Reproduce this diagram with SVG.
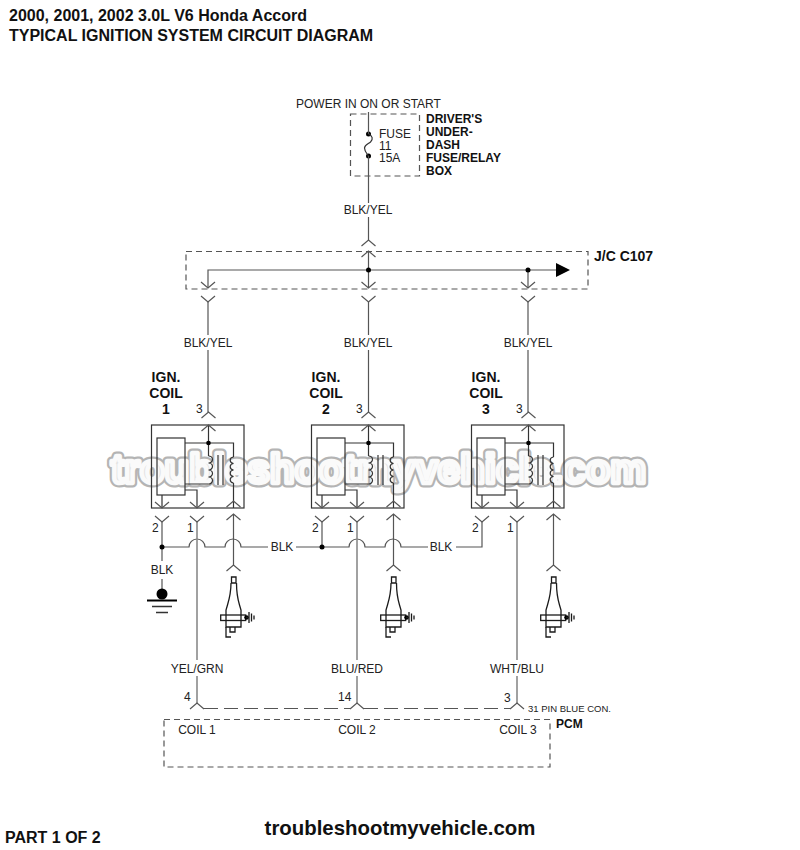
<svg xmlns="http://www.w3.org/2000/svg" xmlns:xlink="http://www.w3.org/1999/xlink" width="800" height="850" viewBox="0 0 800 850">
<style>
text{font-family:"Liberation Sans",Arial,sans-serif;font-size:12px;fill:#222}
.b{font-weight:bold;fill:#111}
.t{font-weight:bold;font-size:16px;fill:#111}
.ig{font-size:14px}
.m{text-anchor:middle}
.w{fill:none;stroke:#555;stroke-width:1.2}
.g{fill:none;stroke:#8a8a8a;stroke-width:1.6}
.k{fill:none;stroke:#333;stroke-width:1.2}
.p{fill:none;stroke:#1a1a1a;stroke-width:1.3}
.d{fill:none;stroke:#555;stroke-width:1.2;stroke-dasharray:6 4}
.dot{fill:#000}
.wm1{font-weight:bold;font-size:40.300px;fill:#b4b4b4;stroke:#b4b4b4;stroke-width:9;stroke-linejoin:round;text-anchor:middle}
.wm2{font-weight:bold;font-size:40.300px;fill:#e2e2e2;stroke:#fafafa;stroke-width:4.500;stroke-linejoin:round;text-anchor:middle}
</style>
<defs>
<path id="v" class="w" d="M-7 -6L0 0L7 -6"/>
<path id="c" class="w" d="M-7 6L0 0L7 6"/>
<g id="coil">
<rect class="k" x="151.500" y="425" width="92.500" height="83"/>
<rect class="k" x="157" y="438" width="28" height="57"/>
<path class="k" d="M185 443H233.500V457M233.500 483V508M208.500 425V456M208.500 484H185M185 490H197V508M162 495V508"/>
<path class="k" d="M208.500 456a4 3.500 0 0 1 0 7a4 3.500 0 0 1 0 7a4 3.500 0 0 1 0 7a4 3.500 0 0 1 0 7"/>
<path class="k" d="M233.500 457a4 3.300 0 0 0 0 6.500a4 3.300 0 0 0 0 6.500a4 3.300 0 0 0 0 6.500a4 3.300 0 0 0 0 6.500"/>
<path class="k" d="M218 455V485M223 455V485"/>
<circle class="dot" cx="208.500" cy="443" r="2.300"/>
<use xlink:href="#c" x="208.500" y="425"/>
<use xlink:href="#c" x="233.500" y="501"/>
<use xlink:href="#v" x="162" y="508"/>
<use xlink:href="#v" x="197" y="508"/>
<use xlink:href="#c" x="208.500" y="412"/>
<use xlink:href="#v" x="162" y="522"/>
<use xlink:href="#v" x="197" y="522"/>
<use xlink:href="#c" x="233.500" y="514"/>
<use xlink:href="#c" x="233.500" y="565"/>
</g>
<g id="plug">
<path class="p" d="M231.500 577h4.500v6h-4.500zM231 583C231 592 229 600 227.500 605L226 610V627H241V610L239.500 605C238 600 236.500 592 236.500 583"/>
<rect class="p" x="220.700" y="615" width="25" height="5.500"/>
<path class="p" d="M230 627v5h5v-5M226 627v10h5"/>
<circle class="dot" cx="246.500" cy="617.500" r="2.300"/>
<path class="p" d="M246 617.500h3M249 612v11M251.500 613.500v8M254 615.500v4"/>
</g>
</defs>
<text class="wm1" x="378.500" y="483">troubleshootmyvehicle.com</text>
<text class="wm2" x="378.500" y="483">troubleshootmyvehicle.com</text>
<text class="t" x="9" y="21">2000, 2001, 2002 3.0L V6 Honda Accord</text>
<text class="t" x="9" y="41">TYPICAL IGNITION SYSTEM CIRCUIT DIAGRAM</text>
<text x="296" y="108">POWER IN ON OR START</text>
<g id="fuse-box">
<rect class="d" x="350.500" y="114" width="69" height="62"/>
<text x="379" y="138">FUSE</text><text x="379" y="150">11</text><text x="379" y="162">15A</text>
<circle class="dot" cx="368.500" cy="134" r="2.500"/><circle class="dot" cx="368.500" cy="156" r="2.500"/>
<path class="k" d="M368.500 134c4 2 5 5 2 8c-2.500 2 -6 3 -6 6s2 5 4 8"/>
<text class="b" x="426" y="123">DRIVER'S</text><text class="b" x="426" y="136">UNDER-</text><text class="b" x="426" y="149">DASH</text><text class="b" x="426" y="162">FUSE/RELAY</text><text class="b" x="426" y="175">BOX</text>
</g>
<g id="jc">
<rect class="d" x="186" y="251.500" width="402" height="37.500"/>
<text class="b" x="594" y="261" style="font-size:14px">J/C C107</text>
<path d="M556 263L570 270L556 277Z" fill="#000"/>
</g>
<g id="connectors">
<path class="w" d="M368.500 112V134M368.500 156V203M368.500 217V240M368.500 251V288M208 288V270H556M528 270V288M208 302V335M208 350V412M368.500 302V335M368.500 350V412M528 302V335M528 350V412"/>
<circle class="dot" cx="368.500" cy="270" r="2.500"/><circle class="dot" cx="528" cy="270" r="2.500"/>
<use xlink:href="#c" x="368.500" y="240"/><use xlink:href="#c" x="368.500" y="251"/>
<use xlink:href="#v" x="208" y="288"/><use xlink:href="#v" x="368.500" y="288"/><use xlink:href="#v" x="528" y="288"/>
<use xlink:href="#v" x="208" y="302"/><use xlink:href="#v" x="368.500" y="302"/><use xlink:href="#v" x="528" y="302"/>
<path class="w" d="M162 522V561M162 579V590M162 547H189a8 8 0 0 1 16 0H225a8 8 0 0 1 16 0H268M296 547H322V522M322 547H349a8 8 0 0 1 16 0H385a8 8 0 0 1 16 0H428M456 547H482V522"/>
<path class="w" d="M233.500 514V565M393.500 514V565M553.500 514V565"/>
<circle class="dot" cx="162" cy="547" r="2.500"/><circle class="dot" cx="322" cy="547" r="2.500"/>
<path class="g" d="M197 522V660M197 676V703M357 522V660M357 676V703M517 522V660M517 676V703"/>
<use xlink:href="#c" x="197" y="703"/><use xlink:href="#c" x="357" y="703"/><use xlink:href="#c" x="517" y="703"/>
<path class="d" d="M204 708.500H350M364 708.500H510" style="stroke-dasharray:14 6"/>
</g>
<g id="ground"><circle class="dot" cx="162" cy="594" r="5.500"/><path d="M147 600.500H177" stroke="#000" stroke-width="2" fill="none"/><path d="M152 606.500H172M156 612.500H168" stroke="#333" stroke-width="1.500" fill="none"/></g>
<g id="coil-1"><use xlink:href="#coil"/><use xlink:href="#plug"/><text class="b m ig" x="166" y="382">IGN.</text><text class="b m ig" x="166" y="398">COIL</text><text class="b m ig" x="166" y="414">1</text><text x="196" y="413">3</text><text x="152" y="532">2</text><text x="187" y="532">1</text></g>
<g id="coil-2"><use xlink:href="#coil" x="160"/><use xlink:href="#plug" x="160"/><text class="b m ig" x="326" y="382">IGN.</text><text class="b m ig" x="326" y="398">COIL</text><text class="b m ig" x="326" y="414">2</text><text x="356" y="413">3</text><text x="312" y="532">2</text><text x="347" y="532">1</text></g>
<g id="coil-3"><use xlink:href="#coil" x="320"/><use xlink:href="#plug" x="320"/><text class="b m ig" x="486" y="382">IGN.</text><text class="b m ig" x="486" y="398">COIL</text><text class="b m ig" x="486" y="414">3</text><text x="516" y="413">3</text><text x="472" y="532">2</text><text x="507" y="532">1</text></g>
<g id="labels">
<text class="m" x="368" y="214">BLK/YEL</text>
<text class="m" x="208" y="347">BLK/YEL</text><text class="m" x="368" y="347">BLK/YEL</text><text class="m" x="528" y="347">BLK/YEL</text>
<text class="m" x="282" y="551">BLK</text><text class="m" x="441" y="551">BLK</text><text class="m" x="162" y="574">BLK</text>
<text class="m" x="197" y="673">YEL/GRN</text><text class="m" x="357" y="673">BLU/RED</text><text class="m" x="517" y="673">WHT/BLU</text>
<text x="184" y="701">4</text><text x="338" y="701">14</text><text x="504" y="702">3</text>
<text x="528" y="712" style="font-size:9.500px">31 PIN BLUE CON.</text>
</g>
<g id="pcm">
<rect class="d" x="164" y="719.500" width="386" height="47.500"/>
<text class="b" x="556" y="728">PCM</text>
<text class="m" x="197" y="734">COIL 1</text><text class="m" x="357" y="734">COIL 2</text><text class="m" x="518" y="734">COIL 3</text>
</g>
<text class="b" x="5" y="843" style="font-size:16px">PART 1 OF 2</text>
<text class="b m" x="400" y="835" style="font-size:20.400px">troubleshootmyvehicle.com</text>
</svg>
